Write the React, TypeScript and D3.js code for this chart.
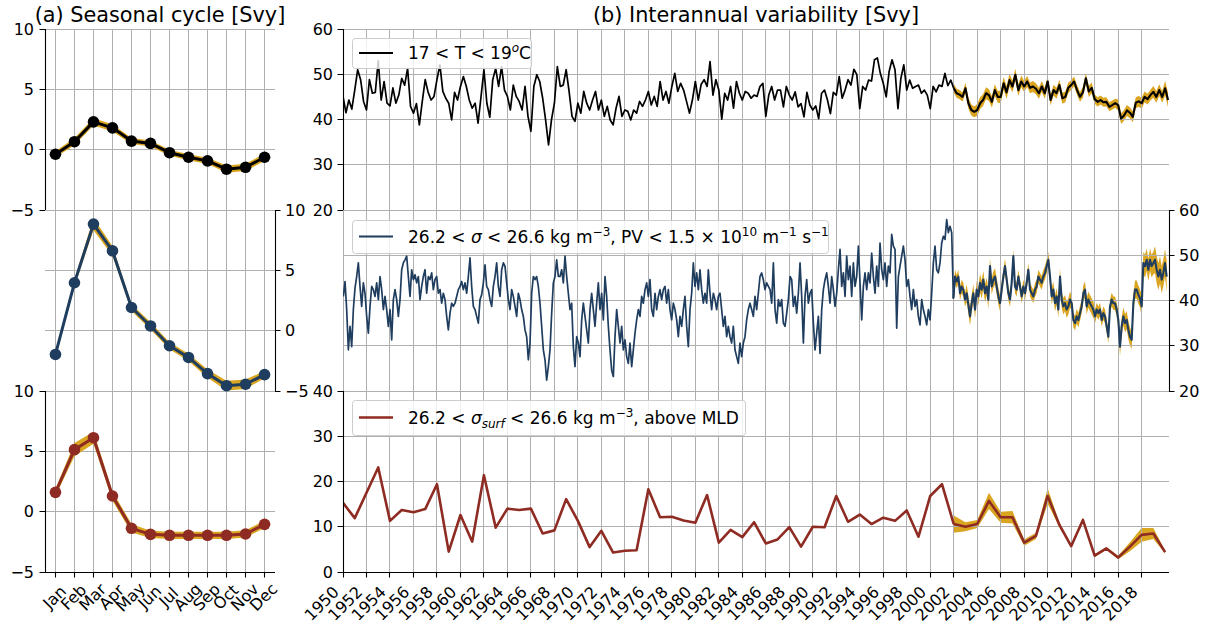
import React from "react";
import * as d3 from "d3";

// ---------- seasonal cycle (monthly climatology, Svy) ----------
const MONTHS = ["Jan", "Feb", "Mar", "Apr", "May", "Jun", "Jul", "Aug", "Sep", "Oct", "Nov", "Dec"];
const SEASONAL_T = [-0.38, 0.66, 2.3, 1.81, 0.71, 0.52, -0.25, -0.63, -0.93, -1.62, -1.46, -0.63];
const SEASONAL_T_SPREAD = [0.25, 0.3, 0.3, 0.3, 0.25, 0.25, 0.25, 0.25, 0.25, 0.3, 0.3, 0.3];
const SEASONAL_PV = [-1.97, 3.97, 8.83, 6.61, 1.92, 0.39, -1.25, -2.22, -3.56, -4.56, -4.44, -3.64];
const SEASONAL_PV_SPREAD = [0.2, 0.3, 0.5, 0.4, 0.3, 0.3, 0.3, 0.3, 0.35, 0.4, 0.4, 0.3];
const SEASONAL_MLD = [1.6, 5.14, 6.13, 1.3, -1.38, -1.88, -1.96, -1.96, -1.96, -1.96, -1.85, -1.05];
const SEASONAL_MLD_SPREAD = [0.3, 0.55, 0.5, 0.4, 0.35, 0.3, 0.3, 0.3, 0.3, 0.3, 0.3, 0.3];

// ---------- 17-19 C layer volume, quarterly from 1950.0 ----------
const TEMP_START = 1950;
const TEMP_STEP = 0.25;
const TEMP_VOLUME = [
  45.1, 41.5, 44.3, 42.3, 46.5, 51, 48.8, 44, 42.1, 48.8, 45.8, 46, 53, 44.3, 48.4, 43.6,
  43, 47, 43.6, 45.4, 49.1, 47.6, 51.3, 42.9, 41.4, 43.5, 38.8, 44, 48.8, 46, 44.3, 45.1,
  48.8, 52.1, 46.2, 44.7, 43.6, 39.9, 46, 44.3, 47.3, 49.5, 47.3, 44.3, 42.5, 43.6, 39.2, 45,
  51, 43.6, 40.5, 48.8, 51.3, 47.3, 51.7, 46.5, 45.1, 42.1, 47.6, 45.1, 44, 42.1, 47.3, 40.7,
  37.4, 47.3, 49.9, 48.4, 44.7, 39.9, 34.4, 39.9, 43.6, 51.7, 47.3, 47.6, 51, 46.2, 40.7, 39.6,
  43.6, 41.4, 46.2, 43.6, 42.1, 44.3, 46.2, 42.1, 44.3, 40.7, 42.9, 39.9, 38.8, 42.5, 45.1, 40.7,
  42.1, 41.8, 39.9, 42.1, 41.4, 44, 42.9, 44.3, 46.2, 43.2, 45.1, 42.9, 48.4, 44.3, 46.2, 43.6,
  47.3, 50.2, 46.2, 48, 46.5, 44, 41.4, 44.3, 48.4, 44.3, 47.8, 48.8, 47.3, 52.8, 45.4, 48.8,
  46.5, 40.1, 45.8, 44.3, 47.3, 42.5, 48.4, 45.8, 44.3, 46.2, 45.8, 44.7, 45.4, 45.1, 47.3, 48,
  40.7, 45.4, 47.3, 44.3, 46.5, 46.5, 42.8, 47.3, 45.4, 44.3, 46.1, 42.8, 43.5, 40.6, 46, 43.2,
  42.1, 43, 40.2, 45.8, 46.5, 44.3, 41.3, 46, 45.4, 49.5, 44.7, 46.5, 48.8, 47.6, 51.1, 49.9,
  42.4, 47.3, 46.5, 48.7, 48.5, 53.2, 53.6, 50.2, 48, 45, 50.6, 53.2, 51, 42.4, 49.1, 52.1,
  46.5, 48.7, 46.9, 47.3, 47.6, 45.8, 46.5, 45.4, 42.4, 47.3, 46.1, 47.6, 47.3, 50.2, 47.5, 48.7,
  46.9, 45.8, 45.5, 45, 46.9, 43.6, 42.1, 41.7, 42.1, 43.6, 44.3, 45.8, 45.4, 43.9, 46.5, 45,
  45, 48, 46, 48.7, 47.3, 49.9, 46.5, 48.4, 47.3, 48.4, 47, 47.3, 46.8, 45.8, 47.3, 45.8,
  48.4, 44.3, 46.5, 45.8, 47.6, 44.7, 45, 47, 47.6, 48.4, 46.5, 45, 46, 49.1, 46.2, 47,
  44.5, 43.9, 44.3, 43.8, 43.9, 42.8, 43.2, 43.6, 43.2, 40.2, 40.9, 42, 41.5, 40.6, 43.7, 44,
  43.6, 45, 44.5, 45.4, 46.1, 45, 46.5, 45, 46.9, 44.3,
];

// ---------- low-PV mode water volume, sampled every 0.1419 yr ----------
const PV_STEP = 0.1419;
const PV_EARLY_START = 1950.03;
const PV_EARLY = [
  40.9, 44.2, 38.0, 29.1, 34.3, 29.8, 38.0, 42.8, 45.3, 48.3, 43.1, 38.7, 43.9, 41.6, 36.5, 32.8,
  38.7, 43.1, 42.4, 40.9, 43.9, 40.2, 45.3, 42.4, 38.0, 40.9, 38.0, 34.3, 38.0, 31.3, 40.2, 42.4,
  40.2, 36.5, 40.2, 46.8, 48.3, 49.0, 49.8, 45.3, 40.9, 46.8, 44.6, 45.7, 43.9, 45.3, 40.2, 43.1,
  45.3, 46.8, 41.6, 45.3, 44.6, 46.1, 42.4, 44.6, 45.3, 41.6, 42.4, 39.4, 41.6, 40.2, 36.5, 33.5,
  37.2, 39.4, 38.7, 39.4, 40.9, 42.4, 43.1, 44.2, 42.4, 43.9, 41.6, 45.3, 49.4, 43.1, 38.7, 38.0,
  36.5, 35.0, 40.2, 41.3, 43.9, 47.9, 43.1, 42.4, 40.2, 38.7, 43.1, 45.3, 48.3, 43.1, 40.9, 46.8,
  48.3, 47.6, 43.9, 40.2, 38.0, 42.4, 40.9, 38.7, 36.5, 41.6, 40.2, 38.0, 36.5, 33.5, 32.0, 26.9,
  30.6, 41.6, 45.3, 44.6, 45.3, 43.1, 39.4, 34.3, 29.1, 26.9, 22.4, 25.4, 29.1, 37.2, 43.9, 45.3,
  49.0, 45.3, 45.3, 46.8, 43.9, 49.8, 45.3, 41.6, 38.0, 39.4, 29.8, 25.4, 32.0, 30.6, 27.6, 35.7,
  39.4, 36.5, 33.5, 30.6, 38.0, 41.6, 38.0, 34.3, 39.4, 43.9, 38.0, 41.6, 35.7, 45.3, 40.9, 34.3,
  29.1, 24.6, 23.2, 32.0, 38.0, 34.3, 30.6, 34.3, 29.1, 31.3, 27.6, 26.1, 30.6, 25.4, 29.1, 32.8,
  35.7, 38.0, 36.5, 40.9, 39.4, 42.4, 43.9, 40.9, 44.6, 38.0, 36.5, 41.6, 38.0, 40.9, 42.4, 40.2,
  42.4, 43.1, 39.4, 42.4, 38.0, 35.7, 39.4, 38.0, 35.7, 32.0, 36.5, 34.3, 38.0, 40.9, 34.3, 29.8,
  38.0, 41.6, 48.3, 43.1, 46.1, 42.4, 46.8, 42.4, 39.4, 41.6, 39.4, 46.8, 41.6, 38.0, 41.6, 40.2,
  38.0, 40.9, 41.6, 38.0, 34.3, 36.5, 32.0, 34.3, 32.0, 30.6, 34.3, 29.1, 27.6, 26.1, 30.6, 27.6,
  30.6, 32.0, 35.7, 38.0, 39.4, 38.0, 36.5, 40.9, 38.0, 41.6, 45.3, 46.1, 44.6, 42.4, 43.9,
];
const PV_LATE_START = 1986.36;
const PV_LATE = [
  42.4, 39.4, 48.3, 38.0, 35.0, 40.2, 38.7, 40.2, 35.0, 34.3, 37.2, 40.2, 45.3, 44.6, 38.7, 40.9,
  37.2, 41.6, 48.3, 40.9, 30.6, 40.9, 44.6, 39.4, 41.6, 42.4, 35.0, 29.1, 32.8, 36.5, 28.3, 38.0,
  42.4, 44.6, 46.1, 43.1, 39.4, 45.3, 42.4, 38.7, 41.6, 46.8, 51.3, 43.1, 46.1, 40.9, 49.8, 44.6,
  47.6, 40.9, 48.3, 43.1, 45.3, 52.0, 43.9, 35.7, 43.1, 46.1, 42.4, 46.1, 43.9, 50.5, 45.3, 41.6,
  47.6, 43.1, 52.7, 46.8, 44.6, 48.3, 43.1, 47.6, 46.1, 54.6, 52.0, 51.3, 33.9, 45.3, 47.6, 49.8,
  52.0, 49.0, 43.1, 44.6, 40.9, 38.0, 42.4, 38.7, 40.2, 36.5, 34.6, 40.2, 38.0, 36.5, 34.6, 38.0,
  35.7, 41.6, 48.3, 52.0, 46.8, 46.1, 48.3, 52.7, 54.2, 53.5, 57.9, 55.0, 56.4, 55.0, 40.5, 45.3,
  44.2, 45.3, 41.6, 43.1, 42.4, 40.2, 41.6, 39.1, 36.5, 39.4, 41.6, 38.0, 42.4, 40.9, 43.9, 42.4,
  44.6, 41.6, 43.1, 40.2, 47.6, 43.1, 44.6, 45.3, 43.1, 40.9, 39.4, 42.4, 45.3, 47.6, 44.6, 41.6,
  40.2, 43.9, 49.8, 43.1, 42.4, 45.3, 43.1, 40.9, 43.1, 41.6, 43.9, 46.8, 42.4, 41.6, 40.9, 42.4,
  43.1, 45.3, 44.6, 43.9, 45.3, 46.1, 47.6, 49.0, 45.3, 40.9, 42.4, 39.4, 40.9, 38.0, 45.3, 40.2,
  38.7, 39.4, 38.0, 38.7, 40.2, 39.4, 35.7, 35.0, 36.5, 35.7, 37.2, 38.7, 41.6, 42.4, 38.7, 40.2,
  39.4, 38.7, 38.0, 36.5, 38.0, 37.2, 38.0, 35.7, 37.2, 36.5, 34.3, 32.0, 38.7, 40.2, 39.4, 39.4,
  38.0, 35.7, 29.8, 34.3, 36.5, 35.0, 35.7, 33.5, 32.0, 31.3, 39.4, 42.4, 42.4, 41.3, 40.5, 38.7,
  48.3, 47.6, 49.0, 46.8, 49.0, 47.6, 48.3, 49.0, 46.8, 45.3, 46.8, 44.6, 46.1, 48.3, 45.3,
];

// ensemble period: half-width of the ensemble range per year
const ENSEMBLE_START = 2002;
const TEMP_SPREAD = [1.0, 1.2, 1.3, 1.3, 1.4, 1.3, 1.2, 1.2, 1.2, 1.2, 1.1, 1.2, 1.0, 1.0, 1.2, 1.2, 1.2, 1.3, 1.6];
const PV_SPREAD = [1.5, 2.0, 2.0, 1.8, 1.6, 1.5, 1.5, 1.5, 1.8, 1.8, 1.6, 1.8, 1.5, 1.5, 2.0, 2.0, 2.5, 3.0, 3.5];

// annual surface-outcrop volume above the mixed layer
const MLD_YEARS = d3.range(1950, 2021);
const MLD_VOLUME = [
  15.3, 11.9, 17.5, 23.1, 11.3, 13.7, 13.2, 13.9, 19.4, 4.5,
  12.6, 6.7, 21.4, 9.8, 14.0, 13.7, 14.0, 8.5, 9.2, 16.1,
  11.3, 5.5, 9.1, 4.3, 4.7, 4.8, 18.3, 12.1, 12.2, 11.4,
  10.9, 17.0, 6.5, 9.3, 7.7, 11.0, 6.3, 7.2, 9.9, 5.6,
  10.0, 9.9, 16.8, 11.1, 12.7, 10.6, 12.0, 11.3, 13.6, 7.8,
  16.8, 19.4, 10.6, 10.0, 10.6, 15.7, 12.1, 12.1, 6.5, 8.0,
  16.8, 10.4, 5.7, 11.5, 3.6, 5.2, 3.2, 5.6, 8.2, 8.5, 4.4,
];
const MLD_SPREAD = [1.9, 1.0, 0.9, 1.8, 1.2, 1.4, 0.7, 0.7, 1.7, 0.5, 0.3, 0.5, 0.3, 0.3, 0.4, 1.0, 1.5, 1.2, 0.3];

const YEAR_TICKS = d3.range(1950, 2019, 2);
const SEASONAL_TICKS = [-5, 0, 5, 10];
const TEMP_TICKS = [20, 30, 40, 50, 60];
const PV_TICKS = [20, 30, 40, 50, 60];
const MLD_TICKS = [0, 10, 20, 30, 40];

const FONT = "DejaVu Sans, Verdana, sans-serif";
const GRID = "#b0b0b0";
const GOLD = "#daa520";
const C_T = "#000000";
const C_PV = "#1f3d5e";
const C_MLD = "#8e2b22";
const TICK = 5.5;

const fmt = (v: number) => (v < 0 ? "\u2212" + Math.abs(v) : String(v));
// snap a hairline to the pixel grid so it renders as one crisp pixel
const px = (v: number) => Math.round(v - 0.5) + 0.5;

type Pt = { t: number; v: number; s?: number };

function sampled(values: number[], start: number, step: number): Pt[] {
  return values.map((v, i) => ({ t: start + i * step, v }));
}

function withSpread(points: Pt[], spread: number[]): Pt[] {
  return points
    .filter((p) => p.t >= ENSEMBLE_START - 0.05)
    .map((p) => ({
      ...p,
      s: spread[Math.max(0, Math.min(spread.length - 1, Math.floor(p.t - ENSEMBLE_START)))],
    }));
}

function Legend({ x, y, w, h, color, lw, children }: any) {
  const cy = y + h / 2;
  return (
    <g>
      <rect x={x + 0.5} y={y + 0.5} width={w} height={h} rx={3} fill="#ffffff" fillOpacity={0.8} stroke="#cccccc" strokeWidth={1} />
      <line x1={x + 7} x2={x + 41} y1={cy} y2={cy} stroke={color} strokeWidth={lw} />
      <text x={x + 56} y={cy + 6} fontSize={17} fontFamily={FONT} fill="#000">
        {children}
      </text>
    </g>
  );
}

export default function App() {
  const W = 1217;
  const H = 630;
  const LX0 = 45;
  const LX1 = 275;
  const RX0 = 343;
  const RX1 = 1169;
  const rows: [number, number][] = [
    [29, 210],
    [210, 391],
    [391, 572],
  ];

  const xM = d3.scaleLinear().domain([0.45, 12.55]).range([LX0, LX1]);
  const yL = rows.map(([t, b]) => d3.scaleLinear().domain([-5, 10]).range([b, t]));
  const xY = d3.scaleLinear().domain([1950, 2020.33]).range([RX0, RX1]);
  const yR = [
    d3.scaleLinear().domain([20, 60]).range([rows[0][1], rows[0][0]]),
    d3.scaleLinear().domain([20, 60]).range([rows[1][1], rows[1][0]]),
    d3.scaleLinear().domain([0, 40]).range([rows[2][1], rows[2][0]]),
  ];

  // ----- left column -----
  const seasonal = [
    { vals: SEASONAL_T, spread: SEASONAL_T_SPREAD, color: C_T },
    { vals: SEASONAL_PV, spread: SEASONAL_PV_SPREAD, color: C_PV },
    { vals: SEASONAL_MLD, spread: SEASONAL_MLD_SPREAD, color: C_MLD },
  ];

  const leftGrid = rows.map(([t, b], r) => {
    const d =
      MONTHS.map((_, i) => `M${px(xM(i + 1))},${t}V${b}`).join("") +
      SEASONAL_TICKS.map((v) => `M${LX0},${px(yL[r](v))}H${LX1}`).join("");
    return <path key={"lg" + r} d={d} stroke={GRID} strokeWidth={1} fill="none" />;
  });

  const leftMarks = seasonal.map((s, r) => {
    const pts = s.vals.map((v, i) => ({ m: i + 1, v, s: s.spread[i] }));
    const y = yL[r];
    const area = d3
      .area<any>()
      .x((d) => xM(d.m))
      .y0((d) => y(d.v - d.s))
      .y1((d) => y(d.v + d.s));
    const line = d3
      .line<any>()
      .x((d) => xM(d.m))
      .y((d) => y(d.v));
    return (
      <g key={"lm" + r}>
        <path d={area(pts) || ""} fill={GOLD} />
        <path d={line(pts) || ""} fill="none" stroke={s.color} strokeWidth={3} strokeLinejoin="round" />
        {pts.map((d) => (
          <circle key={d.m} cx={xM(d.m)} cy={y(d.v)} r={5.8} fill={s.color} />
        ))}
      </g>
    );
  });

  // ----- right column -----
  const tempPts = sampled(TEMP_VOLUME, TEMP_START, TEMP_STEP);
  const pvPts = [
    ...sampled(PV_EARLY, PV_EARLY_START, PV_STEP),
    ...sampled(PV_LATE, PV_LATE_START, PV_STEP),
  ];
  const mldPts: Pt[] = MLD_YEARS.map((yr, i) => ({ t: yr, v: MLD_VOLUME[i] }));
  const mldBand = mldPts
    .filter((p) => p.t >= ENSEMBLE_START)
    .map((p) => ({ ...p, s: MLD_SPREAD[p.t - ENSEMBLE_START] }));

  const rightSeries = [
    { pts: tempPts, band: withSpread(tempPts, TEMP_SPREAD), color: C_T, lw: 1.7, lwEns: 2.1 },
    { pts: pvPts, band: withSpread(pvPts, PV_SPREAD), color: C_PV, lw: 1.7, lwEns: 2.1 },
    { pts: mldPts, band: mldBand, color: C_MLD, lw: 2.6, lwEns: 2.6 },
  ];
  const rightTicks = [TEMP_TICKS, PV_TICKS, MLD_TICKS];

  const rightGrid = rows.map(([t, b], r) => {
    const d =
      YEAR_TICKS.map((yr) => `M${px(xY(yr))},${t}V${b}`).join("") +
      rightTicks[r].map((v) => `M${RX0},${px(yR[r](v))}H${RX1}`).join("");
    return <path key={"rg" + r} d={d} stroke={GRID} strokeWidth={1} fill="none" />;
  });

  const rightBands = rightSeries.map((s, r) => {
    const y = yR[r];
    const area = d3
      .area<Pt>()
      .x((d) => xY(d.t))
      .y0((d) => y(d.v - (d.s || 0)))
      .y1((d) => y(d.v + (d.s || 0)));
    return <path key={"rb" + r} d={area(s.band) || ""} fill={GOLD} clipPath={`url(#clipR${r})`} />;
  });

  const rightLines = rightSeries.map((s, r) => {
    const y = yR[r];
    const line = d3
      .line<Pt>()
      .x((d) => xY(d.t))
      .y((d) => y(d.v));
    const early = s.pts.filter((p) => p.t < ENSEMBLE_START + 0.2);
    const late = s.pts.filter((p) => p.t >= ENSEMBLE_START - 0.05);
    return (
      <g key={"rl" + r} fill="none" stroke={s.color} strokeLinejoin="round" clipPath={`url(#clipR${r})`}>
        <path d={line(early) || ""} strokeWidth={s.lw} />
        <path d={line(late) || ""} strokeWidth={s.lwEns} />
      </g>
    );
  });

  // spines and tick marks
  const axisPath = [
    `M${px(LX0)},${rows[0][0]}V${rows[0][1]}`,
    `M${px(LX1)},${rows[1][0]}V${rows[1][1]}`,
    `M${px(LX0)},${rows[2][0]}V${rows[2][1]}`,
    `M${LX0},${px(rows[2][1])}H${LX1}`,
    ...SEASONAL_TICKS.map((v) => `M${LX0 - TICK},${px(yL[0](v))}H${LX0}`),
    ...SEASONAL_TICKS.map((v) => `M${LX1},${px(yL[1](v))}H${LX1 + TICK}`),
    ...SEASONAL_TICKS.map((v) => `M${LX0 - TICK},${px(yL[2](v))}H${LX0}`),
    ...MONTHS.map((_, i) => `M${px(xM(i + 1))},${rows[2][1]}V${rows[2][1] + TICK}`),
    `M${px(RX0)},${rows[0][0]}V${rows[0][1]}`,
    `M${px(RX1)},${rows[1][0]}V${rows[1][1]}`,
    `M${px(RX0)},${rows[2][0]}V${rows[2][1]}`,
    `M${RX0},${px(rows[2][1])}H${RX1}`,
    ...TEMP_TICKS.map((v) => `M${RX0 - TICK},${px(yR[0](v))}H${RX0}`),
    ...PV_TICKS.map((v) => `M${RX1},${px(yR[1](v))}H${RX1 + TICK}`),
    ...MLD_TICKS.map((v) => `M${RX0 - TICK},${px(yR[2](v))}H${RX0}`),
    ...YEAR_TICKS.map((yr) => `M${px(xY(yr))},${rows[2][1]}V${rows[2][1] + TICK}`),
  ].join("");

  const txt = { fontFamily: FONT, fill: "#000" } as const;

  return (
    <svg
      width={W}
      height={H}
      viewBox={`0 0 ${W} ${H}`}
      style={{ position: "absolute", left: 0, top: 0, background: "#fff" }}
    >
      <defs>
        {rows.map(([t, b], r) => (
          <clipPath id={`clipR${r}`} key={r}>
            <rect x={RX0} y={t} width={RX1 - RX0} height={b - t} />
          </clipPath>
        ))}
      </defs>
      <rect x={0} y={0} width={W} height={H} fill="#fff" />

      {/* titles */}
      <text x={(LX0 + LX1) / 2} y={22} textAnchor="middle" fontSize={20.8} {...txt}>
        (a) Seasonal cycle [Svy]
      </text>
      <text x={(RX0 + RX1) / 2} y={22} textAnchor="middle" fontSize={20.8} {...txt}>
        (b) Interannual variability [Svy]
      </text>

      {rightBands}
      {leftGrid}
      {rightGrid}
      {leftMarks}
      {rightLines}

      <path d={axisPath} stroke="#000" strokeWidth={1.1} fill="none" />

      {/* left column tick labels */}
      <g fontSize={16} {...txt}>
        {SEASONAL_TICKS.map((v) => (
          <g key={v}>
            <text x={LX0 - 11} y={yL[0](v)} textAnchor="end" dominantBaseline="central">
              {fmt(v)}
            </text>
            <text x={LX1 + 10} y={yL[1](v)} textAnchor="start" dominantBaseline="central">
              {fmt(v)}
            </text>
            <text x={LX0 - 11} y={yL[2](v)} textAnchor="end" dominantBaseline="central">
              {fmt(v)}
            </text>
          </g>
        ))}
        {MONTHS.map((m, i) => (
          <text
            key={m}
            textAnchor="middle"
            transform={`translate(${xM(i + 1) + 3},${rows[2][1] + 29}) rotate(-45)`}
          >
            {m}
          </text>
        ))}
      </g>

      {/* right column tick labels */}
      <g fontSize={16} {...txt}>
        {TEMP_TICKS.map((v) => (
          <text key={"t" + v} x={RX0 - 10} y={yR[0](v)} textAnchor="end" dominantBaseline="central">
            {fmt(v)}
          </text>
        ))}
        {PV_TICKS.map((v) => (
          <text key={"p" + v} x={RX1 + 10} y={yR[1](v)} textAnchor="start" dominantBaseline="central">
            {fmt(v)}
          </text>
        ))}
        {MLD_TICKS.map((v) => (
          <text key={"m" + v} x={RX0 - 10} y={yR[2](v)} textAnchor="end" dominantBaseline="central">
            {fmt(v)}
          </text>
        ))}
        {YEAR_TICKS.map((yr) => (
          <text key={yr} textAnchor="end" transform={`translate(${xY(yr) - 3},${rows[2][1] + 21}) rotate(-45)`}>
            {yr}
          </text>
        ))}
      </g>

      {/* legends */}
      <Legend x={352} y={38} w={179} h={30} color={C_T} lw={1.8}>
        {"17 < T < 19"}
        <tspan dy={-7} fontSize={12} fontStyle="italic">
          o
        </tspan>
        <tspan dy={7}>C</tspan>
      </Legend>
      <Legend x={352} y={220} w={476} h={33} color={C_PV} lw={1.9}>
        {"26.2 < "}
        <tspan fontStyle="italic">σ</tspan>
        {" < 26.6 kg m"}
        <tspan dy={-7} fontSize={12}>
          −3
        </tspan>
        <tspan dy={7}>{", PV < 1.5 × 10"}</tspan>
        <tspan dy={-7} fontSize={12}>
          10
        </tspan>
        <tspan dy={7}>{" m"}</tspan>
        <tspan dy={-7} fontSize={12}>
          −1
        </tspan>
        <tspan dy={7}>{" s"}</tspan>
        <tspan dy={-7} fontSize={12}>
          −1
        </tspan>
      </Legend>
      <Legend x={352} y={400} w={393} h={35} color={C_MLD} lw={2.6}>
        {"26.2 < "}
        <tspan fontStyle="italic">σ</tspan>
        <tspan dy={4} fontSize={12} fontStyle="italic">
          surf
        </tspan>
        <tspan dy={-4}>{" < 26.6 kg m"}</tspan>
        <tspan dy={-7} fontSize={12}>
          −3
        </tspan>
        <tspan dy={7}>{", above MLD"}</tspan>
      </Legend>
    </svg>
  );
}
